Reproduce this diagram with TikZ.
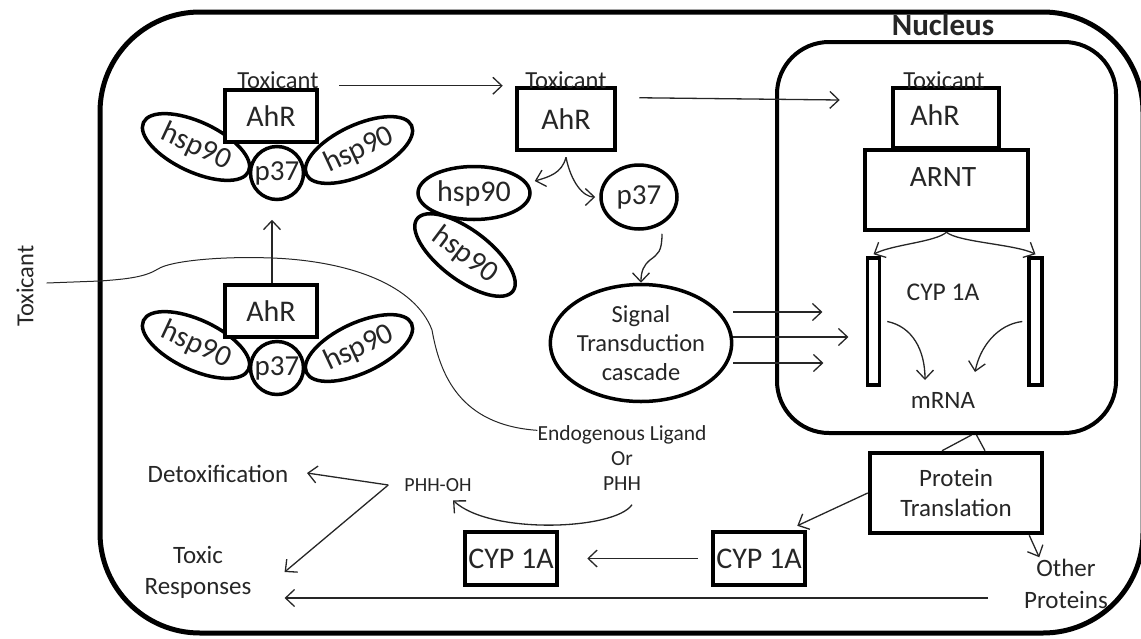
\documentclass[tikz,border=0pt]{standalone}
\usepackage{fontspec}
\setmainfont{Carlito}
\usetikzlibrary{arrows.meta,shapes.geometric}
\definecolor{txtc}{HTML}{262626}
\newcommand\fsz[2]{\fontsize{#1}{#2}\selectfont}
\begin{document}
\begin{tikzpicture}[x=1pt,y=-1pt,
  txt/.style={inner sep=0pt, text=txtc},
  box/.style={draw, line width=4.5pt, fill=white, inner sep=0pt, text=txtc, font=\fsz{30}{36}},
  oval/.style={draw, ellipse, line width=3.5pt, fill=white, inner sep=0pt, text=txtc, font=\fsz{30}{36}},
  arr/.style={line width=1.3pt, draw=black!85, -{Straight Barb[length=9pt,width=17pt,line width=1.3pt]}},
  link/.style={line width=1.3pt, draw=black!85},
]
\useasboundingbox (0,0) rectangle (1141,638);
\clip (0,0) rectangle (1141,638);

% cell and nucleus
\node[draw, line width=5pt, rounded corners=100pt, minimum width=1043pt, minimum height=621pt, inner sep=0pt] (cell) at (621.5,322.5) {};
\node[draw, line width=4pt, rounded corners=52pt, minimum width=339pt, minimum height=391pt, inner sep=0pt] (nuc) at (946.5,237.5) {};
\node[txt, font=\fsz{31}{36}\bfseries] (nucl) at (943,25) {Nucleus};

% top-left complex
\node[oval, minimum width=116pt, minimum height=50pt, rotate=-25] (hA) at (196,147) {hsp90};
\node[oval, minimum width=116pt, minimum height=50pt, rotate=25] (hB) at (359,150) {hsp90};
\node[oval, circle, minimum size=53pt, font=\fsz{29}{34}] (pA) at (277,173) {p37};
\node[box, minimum width=92pt, minimum height=52pt] (aA) at (271,116) {AhR};
\node[txt, font=\fsz{24.5}{29}, anchor=base] (tA) at (278,88) {Toxicant};

% lower-left complex
\node[oval, minimum width=116pt, minimum height=50pt, rotate=-25] (hC) at (196,345) {hsp90};
\node[oval, minimum width=116pt, minimum height=50pt, rotate=25] (hD) at (359,348) {hsp90};
\node[oval, circle, minimum size=53pt, font=\fsz{29}{34}] (pB) at (277,368) {p37};
\node[box, minimum width=92pt, minimum height=52pt] (aB) at (271,311) {AhR};

% middle
\node[box, minimum width=98pt, minimum height=62pt] (a2) at (566,119) {AhR};
\node[txt, font=\fsz{24.5}{29}, anchor=base] (t2) at (566,88) {Toxicant};
\node[oval, minimum width=120pt, minimum height=50pt, rotate=-37] (h4) at (465,255) {hsp90};
\node[oval, minimum width=112pt, minimum height=53pt] (h3) at (474,193) {hsp90};
\node[oval, minimum width=76pt, minimum height=64pt, font=\fsz{29}{34}] (p2) at (639,197) {p37};
\node[oval, minimum width=172pt, minimum height=117pt, align=center, font=\fsz{24.5}{29}] (sig) at (641,343) {Signal\\Transduction\\cascade};

% nucleus content
\node[box, minimum width=106pt, minimum height=60pt] (a3) at (946,118) {};
\node[txt, font=\fsz{30}{36}] (a3t) at (935,115) {AhR};
\node[txt, font=\fsz{24.5}{29}, anchor=base] (t3) at (944,88) {Toxicant};
\node[box, minimum width=163pt, minimum height=80pt] (arnt) at (946.5,190) {};
\node[txt, font=\fsz{29.5}{35}] (arntt) at (943,177) {ARNT};
\node[draw, line width=3.5pt, fill=white, minimum width=12pt, minimum height=127pt, inner sep=0pt] (b1) at (873.5,321.5) {};
\node[draw, line width=3.5pt, fill=white, minimum width=13pt, minimum height=127pt, inner sep=0pt] (b2) at (1035.5,321.5) {};
\node[txt, font=\fsz{25.5}{30}] (cypn) at (943,292) {CYP 1A};
\node[txt, font=\fsz{25}{30}] (mrna) at (943,400) {mRNA};

% lower part
\node[box, minimum width=172pt, minimum height=80pt, align=center, font=\fsz{25}{30}] (pt) at (956,493) {Protein\\Translation};
\node[box, minimum width=92pt, minimum height=53pt] (cypR) at (759,558.5) {CYP 1A};
\node[box, minimum width=92pt, minimum height=53pt] (cypL) at (511,558.5) {CYP 1A};
\node[txt, align=center, font=\fsz{25}{32}] (other) at (1066,584) {Other\\Proteins};
\node[txt, align=center, font=\fsz{21.5}{25}] (endo) at (622,458) {Endogenous Ligand\\Or\\PHH};
\node[txt, font=\fsz{20}{24}] (phh) at (438,485) {PHH-OH};
\node[txt, font=\fsz{25}{30}] (detox) at (218,474) {Detoxification};
\node[txt, align=center, font=\fsz{25}{31}] (tox) at (198,572) {Toxic\\Responses};
\node[txt, font=\fsz{24.5}{29}, rotate=90] (toxL) at (25,286) {Toxicant};

% connectors
\draw[arr] ([xshift=1pt]aB.north) -- ([xshift=-5pt,yshift=-18.5pt]pA.south);
\draw[arr] ([xshift=20pt,yshift=2pt]aA.north east) -- ([xshift=-12pt]a2.north west);
\draw[arr] ([xshift=22pt,yshift=-12pt]a2.north east) -- ([xshift=-51pt,yshift=18pt]a3.west);
\draw[arr] ([yshift=-5pt]a2.south) .. controls +(-4,16) and +(14,-4) .. ([xshift=3pt,yshift=12pt]h3.east);
\draw[arr] ([yshift=-5pt]a2.south) .. controls +(5,25) and +(-12,0) .. ([xshift=-4pt]p2.west);
\draw[arr] ([xshift=23pt,yshift=-3pt]p2.south) .. controls +(0,18) and +(8,-6) .. (650,260) .. controls +(-6,5) and +(0,-12) .. (sig.north);
\draw[arr] ([yshift=31pt]sig.east) -- +(89,0);
\draw[arr] ([yshift=6pt]sig.east) -- +(115,0);
\draw[arr] ([yshift=-20pt]sig.east) -- +(90,0);
\draw[arr] (arnt.south) .. controls +(-12,10) and +(20,-10) .. ([yshift=2pt]b1.north);
\draw[arr] (arnt.south) .. controls +(12,10) and +(-20,-10) .. ([yshift=2pt]b2.north);
\draw[arr] ([xshift=6pt]b1.east) .. controls +(25,5) and +(0,-30) .. ([xshift=-18pt,yshift=20pt]mrna.center);
\draw[arr] ([xshift=-5pt]b2.west) .. controls +(-25,3) and +(5,-25) .. ([xshift=32pt,yshift=28pt]mrna.center);
\draw[link] ([xshift=-14pt]pt.north) -- ([xshift=25pt]nuc.south);
\draw[link] ([xshift=30pt]nuc.south) -- ([xshift=29pt]pt.north);
\draw[arr] (pt.west) -- ([xshift=-10pt,yshift=4pt]cypR.north east);
\draw[arr] ([xshift=-15pt]pt.south east) -- +(10,22);
\draw[arr] ([xshift=-13pt]cypR.west) -- ([xshift=28pt]cypL.east);
\draw[arr] ([xshift=-36pt,yshift=-14pt]other.west) -- ([xshift=33pt,yshift=-26pt]tox.east);
\draw[arr] ([xshift=10pt,yshift=-14pt]endo.south) .. controls (615,530) and (490,535) .. ([xshift=15pt,yshift=-8.5pt]phh.south);
\coordinate (vx) at ([xshift=-16pt]phh.west);
\draw[arr] (vx) -- ([xshift=18.5pt,yshift=1pt]detox.east);
\draw[arr] (vx) -- ([xshift=33pt]tox.east);
\draw[line width=1pt, draw=black!85] ([xshift=13pt,yshift=3pt]toxL.south) -- (100,281)
  .. controls (128,279) and (145,277) .. (158,269)
  .. controls (170,261) and (220,256) .. (272,258)
  .. controls (350,261) and (415,285) .. (432,330)
  .. controls (440,375) and (460,425) .. ([yshift=-5pt]endo.north west);
\end{tikzpicture}
\end{document}
